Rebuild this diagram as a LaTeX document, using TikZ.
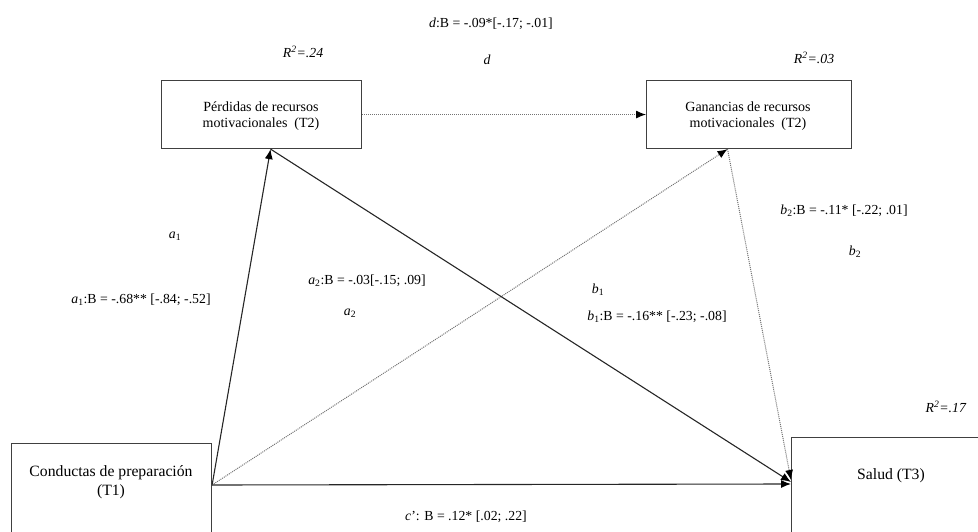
\documentclass[tikz,border=0pt]{standalone}
\usepackage{fontspec}
\setmainfont{Liberation Serif}
\usetikzlibrary{arrows.meta}
\begin{document}
\begin{tikzpicture}[x=1pt,y=-1pt,
  box/.style={draw=black!75, line width=1.1pt, inner sep=0pt, anchor=north west},
  toptext/.style={font=\fontsize{14}{16}\selectfont, align=center, inner sep=0pt},
  bottext/.style={font=\fontsize{15.7}{19}\selectfont, align=center, inner sep=0pt},
  lbl/.style={font=\fontsize{13.8}{16}\selectfont, inner sep=0pt},
  solidarrow/.style={draw=black!85, line width=1.1pt, -{Latex[length=10pt,width=8pt,color=black]}},
  dotarrow/.style={draw=black!55, line width=1pt, densely dotted, -{Latex[length=10pt,width=8pt,color=black,sep=0pt]}},
]
\useasboundingbox (0,0) rectangle (978,532);
\clip (0,0) rectangle (978,532);

% boxes
\node[box, minimum width=200pt, minimum height=68pt] (perd) at (161,80) {};
\node[toptext] (perdt) at (261,116) {Pérdidas de recursos\\motivacionales\ \ (T2)};
\node[box, minimum width=205pt, minimum height=68pt] (gan) at (646,80) {};
\node[toptext] (gant) at (748,116) {Ganancias\ de recursos\\motivacionales\ \ (T2)};
\node[box, minimum width=200pt, minimum height=110pt] (cond) at (11,443) {};
\node[bottext] (condt) at (111,482) {Conductas de preparación\\(T1)};
\node[box, minimum width=220pt, minimum height=110pt] (sal) at (791,437) {};
\node[bottext] (salt) at (891,476) {Salud (T3)};

% attachment points
\coordinate (condR) at ([yshift=-42pt]cond.north east);
\coordinate (perdB) at ([xshift=9pt]perd.south);
\coordinate (ganB) at ([xshift=-21.5pt]gan.south);
\coordinate (salA) at ([yshift=-47pt]sal.north west);
\coordinate (salB) at ([yshift=-45pt]sal.north west);
\coordinate (salC) at ([yshift=-43pt]sal.north west);

% connectors
\draw[solidarrow] (condR) -- (perdB);
\draw[dotarrow] (condR) -- (ganB);
\draw[solidarrow] (condR) -- (salA);
\draw[solidarrow] (perdB) -- (salB);
\draw[dotarrow] (ganB) -- (salC);
\draw[dotarrow] (perd.east) -- (gan.west);

% labels
\node[lbl] (ld) at (491,24) {\textit{d}:B = -.09*[-.17; -.01]};
\node[lbl] (ldd) at (487,60) {\textit{d}};
\node[lbl] (r1) at (303,52) {\textit{R\textsuperscript{2}=.24}};
\node[lbl] (r2) at (814,58) {\textit{R\textsuperscript{2}=.03}};
\node[lbl] (r3) at (946,407) {\textit{R\textsuperscript{2}=.17}};
\node[lbl] (la1) at (175,236) {\textit{a}\textsubscript{1}};
\node[lbl] (la1b) at (141,300) {\textit{a}\textsubscript{1}:B = -.68** [-.84; -.52]};
\node[lbl] (la2b) at (367,281) {\textit{a}\textsubscript{2}:B = -.03[-.15; .09]};
\node[lbl] (la2) at (350,313) {\textit{a}\textsubscript{2}};
\node[lbl] (lb2b) at (844,211) {\textit{b}\textsubscript{2}:B = -.11* [-.22; .01]};
\node[lbl] (lb2) at (855,252) {\textit{b}\textsubscript{2}};
\node[lbl] (lb1) at (598,290) {\textit{b}\textsubscript{1}};
\node[lbl] (lb1b) at (657,317) {\textit{b}\textsubscript{1}:B = -.16** [-.23; -.08]};
\node[lbl] (lc) at (466,517) {\textit{c}’: B = .12* [.02; .22]};
\end{tikzpicture}
\end{document}
